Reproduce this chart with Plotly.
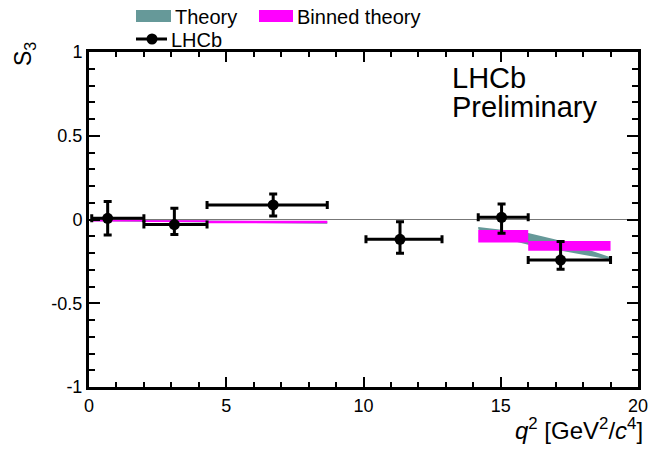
import plotly.graph_objects as go

# ---- data ----
# LHCb measurement
lhcb_x = [0.68, 3.11, 6.71, 11.33, 15.03, 17.18]
lhcb_y = [0.007, -0.030, 0.087, -0.118, 0.013, -0.242]
lhcb_bin_lo = [0.1, 2.0, 4.3, 10.09, 14.18, 16.0]
lhcb_bin_hi = [2.0, 4.3, 8.68, 12.86, 16.0, 19.0]
lhcb_err_up = [0.100, 0.097, 0.065, 0.105, 0.080, 0.110]
lhcb_err_dn = [0.100, 0.060, 0.066, 0.084, 0.095, 0.055]

# Binned theory
bin_lo = [0.1, 2.0, 4.3, 14.18, 16.0]
bin_hi = [2.0, 4.3, 8.68, 16.0, 19.0]
bin_top = [-0.002, -0.005, -0.008, -0.063, -0.128]
bin_bot = [-0.012, -0.015, -0.022, -0.138, -0.186]

# Theory band (low q2 and high q2 regions)
th_low_x = [0.1, 2.0, 4.3, 6.5, 8.68]
th_low_up = [0.000, -0.003, -0.006, -0.009, -0.012]
th_low_dn = [-0.010, -0.014, -0.018, -0.022, -0.026]
th_high_x = [14.18, 15.0, 16.0, 17.0, 18.0, 19.0]
th_high_up = [-0.045, -0.060, -0.080, -0.120, -0.170, -0.225]
th_high_dn = [-0.060, -0.110, -0.150, -0.180, -0.210, -0.240]

TEAL = "#669999"
MAGENTA = "#ff00ff"
FONT = "Liberation Sans, Arial, sans-serif"

fig = go.Figure()

for xs, up, dn in [(th_low_x, th_low_up, th_low_dn), (th_high_x, th_high_up, th_high_dn)]:
    fig.add_trace(go.Scatter(
        x=xs + xs[::-1], y=up + dn[::-1], fill="toself", mode="lines",
        line=dict(width=0, color=TEAL), fillcolor=TEAL, hoverinfo="skip",
        showlegend=False))

for lo, hi, top, bot in zip(bin_lo, bin_hi, bin_top, bin_bot):
    fig.add_trace(go.Scatter(
        x=[lo, hi, hi, lo, lo], y=[top, top, bot, bot, top], fill="toself",
        mode="lines", line=dict(width=0, color=MAGENTA), fillcolor=MAGENTA,
        hoverinfo="skip", showlegend=False))

fig.add_trace(go.Scatter(
    x=lhcb_x, y=lhcb_y, mode="markers",
    marker=dict(color="black", size=11, symbol="circle"),
    error_x=dict(type="data", symmetric=False,
                 array=[h - x for h, x in zip(lhcb_bin_hi, lhcb_x)],
                 arrayminus=[x - l for l, x in zip(lhcb_bin_lo, lhcb_x)],
                 color="black", thickness=3, width=4),
    error_y=dict(type="data", symmetric=False, array=lhcb_err_up,
                 arrayminus=lhcb_err_dn, color="black", thickness=3, width=4),
    showlegend=False))

# zero line
fig.add_shape(type="line", xref="paper", yref="y", x0=0, x1=1, y0=0, y1=0,
              line=dict(color="#777777", width=1), layer="below")

# ---- manual legend (paper coords; plot area 89..638 px, 52..387 px) ----
def px(x):
    return (x - 89) / 549.0

def py(y):
    return (387 - y) / 335.0

fig.add_shape(type="rect", xref="paper", yref="paper",
              x0=px(136), x1=px(171), y0=py(22), y1=py(10),
              fillcolor=TEAL, line=dict(width=0))
fig.add_shape(type="rect", xref="paper", yref="paper",
              x0=px(259), x1=px(293), y0=py(22), y1=py(10),
              fillcolor=MAGENTA, line=dict(width=0))
fig.add_shape(type="line", xref="paper", yref="paper",
              x0=px(136), x1=px(167), y0=py(39), y1=py(39),
              line=dict(color="black", width=3))
fig.add_shape(type="circle", xref="paper", yref="paper",
              x0=px(146.5), x1=px(157.5), y0=py(44.5), y1=py(33.5),
              fillcolor="black", line=dict(width=0))

legend_texts = [("Theory", 173, 17), ("Binned theory", 295, 17), ("LHCb", 169, 40)]
for txt, lx, ly in legend_texts:
    fig.add_annotation(text=txt, xref="paper", yref="paper", x=px(lx), y=py(ly),
                       xanchor="left", yanchor="middle", showarrow=False,
                       font=dict(family=FONT, size=20, color="black"))

for txt, ty in [("LHCb", 78), ("Preliminary", 107)]:
    fig.add_annotation(text=txt, xref="paper", yref="paper",
                       x=px(450), y=py(ty), xanchor="left", yanchor="middle",
                       align="left", showarrow=False,
                       font=dict(family=FONT, size=29, color="black"))

fig.add_annotation(text="<i>q</i><sup>2</sup> [GeV<sup>2</sup>/<i>c</i><sup>4</sup>]",
                   xref="paper", yref="paper", x=px(645), y=py(446),
                   xanchor="right", yanchor="bottom", showarrow=False,
                   font=dict(family=FONT, size=24, color="black"))

fig.add_annotation(text="S<sub>3</sub>", xref="paper", yref="paper",
                   x=px(24), y=py(40), xanchor="center", yanchor="top",
                   textangle=-90, showarrow=False,
                   font=dict(family=FONT, size=23, color="black"))

axis_common = dict(showgrid=False, zeroline=False, showline=True, linecolor="black",
                   linewidth=3, mirror="ticks", ticks="inside", tickcolor="black",
                   tickwidth=2, automargin=False,
                   tickfont=dict(family=FONT, size=18, color="black"))

fig.update_xaxes(range=[0, 20], tickvals=[0, 5, 10, 15, 20],
                 ticktext=["0", "5", "10", "15", "20"], ticklen=10,
                 minor=dict(ticks="inside", dtick=1, ticklen=5, tickwidth=2,
                            tickcolor="black", showgrid=False),
                 **axis_common)
fig.update_yaxes(range=[-1, 1], tickvals=[-1, -0.5, 0, 0.5, 1],
                 ticktext=["-1", "-0.5", "0", "0.5", "1"], ticklen=11,
                 minor=dict(ticks="inside", dtick=0.1, ticklen=6, tickwidth=2,
                            tickcolor="black", showgrid=False),
                 **axis_common)

fig.update_layout(width=653, height=449,
                  margin=dict(l=89, r=15, t=52, b=62),
                  plot_bgcolor="white", paper_bgcolor="white",
                  font=dict(family=FONT, color="black"), showlegend=False)

# remove the browser's default 8px body margin so the figure sits at (0, 0)
fig.write_html("out.html", config={"displayModeBar": False},
               post_script="document.body.style.margin='0';document.body.style.overflow='hidden';")
